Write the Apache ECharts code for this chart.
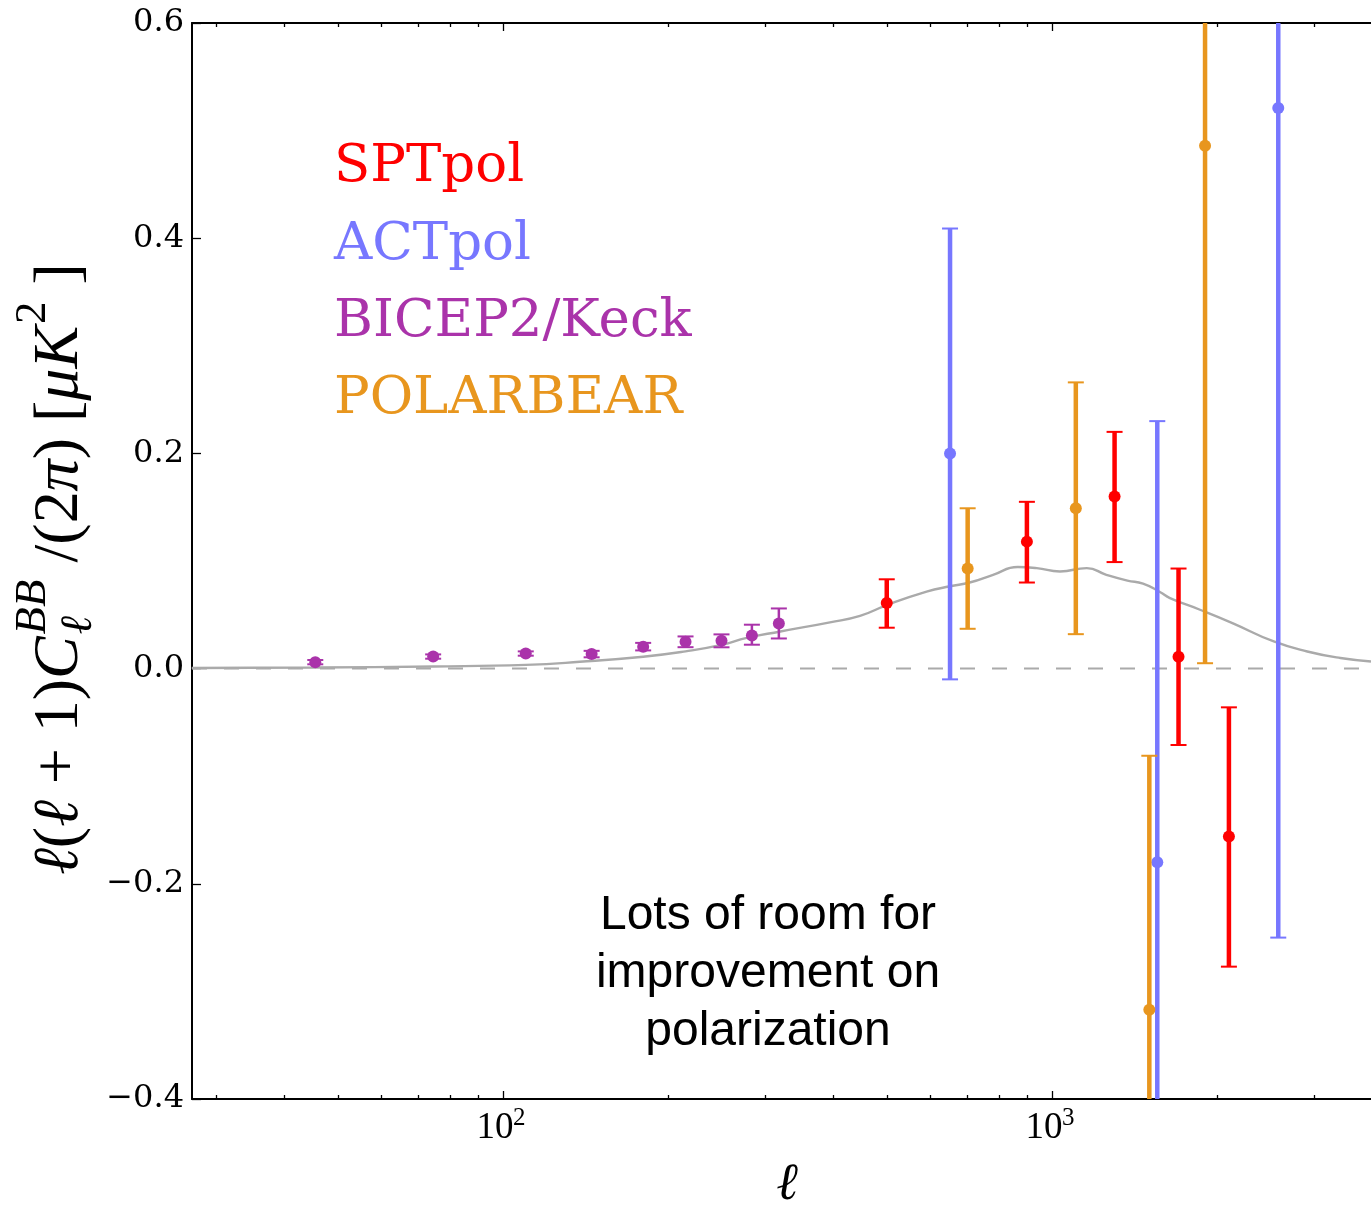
<!DOCTYPE html>
<html>
<head>
<meta charset="utf-8">
<script src="https://cdn.jsdelivr.net/npm/echarts@6/dist/echarts.min.js"></script>
<style>
html,body{margin:0;padding:0;background:#fff;}
#chart{width:1371px;height:1208px;}
</style>
</head>
<body>
<div id="chart"></div>
<script>
// ---------------- data ----------------
const X_MIN = 27.13;
const X_MAX = 3811;
const X_MAJOR = [100, 1000];
const X_MAJOR_EXP = ['2', '3'];
const X_MINOR = [30, 40, 50, 60, 70, 80, 90, 200, 300, 400, 500, 600, 700, 800, 900, 2000, 3000];
const Y_MIN = -0.4, Y_MAX = 0.6, Y_STEP = 0.2;

const SERIES_NAMES = ['SPTpol', 'ACTpol', 'BICEP2/Keck', 'POLARBEAR'];
const SERIES_COLORS = ['#ff0000', '#7777ff', '#aa33aa', '#e8961e'];

const ELL_SPT = [500, 900, 1300, 1700, 2100];
const VAL_SPT = [0.061, 0.118, 0.160, 0.011, -0.156];
const LO_SPT  = [0.038, 0.080, 0.099, -0.071, -0.277];
const HI_SPT  = [0.083, 0.155, 0.220, 0.093, -0.036];

const ELL_ACT = [652, 1555, 2583];
const VAL_ACT = [0.200, -0.180, 0.521];
const LO_ACT  = [-0.010, -0.589, -0.250];
const HI_ACT  = [0.409, 0.230, 1.290];

const ELL_BK = [45.5, 74.6, 110, 145, 180, 215, 250, 284, 318];
const VAL_BK = [0.006, 0.0112, 0.014, 0.0135, 0.0204, 0.0249, 0.0258, 0.0308, 0.0419];
const LO_BK  = [0.004, 0.0092, 0.012, 0.0105, 0.0169, 0.0199, 0.0198, 0.0222, 0.0280];
const HI_BK  = [0.008, 0.0132, 0.016, 0.0165, 0.0239, 0.0299, 0.0318, 0.0408, 0.0559];

const ELL_PB = [702, 1105, 1504, 1900];
const VAL_PB = [0.093, 0.149, -0.317, 0.486];
const LO_PB  = [0.037, 0.032, -0.553, 0.005];
const HI_PB  = [0.149, 0.266, -0.081, 0.967];

const THEORY_ELL = [27.1, 45.5, 74.6, 110, 138, 180, 215, 250, 278, 320, 394, 447, 500, 591, 652, 708, 781, 866, 938, 1034, 1157, 1256, 1372, 1465, 1575, 1640, 1860, 2131, 2535, 2917, 3352, 3811];
const THEORY_VAL = [0.0005, 0.001, 0.002, 0.0035, 0.0063, 0.011, 0.016, 0.022, 0.0285, 0.0345, 0.0430, 0.049, 0.059, 0.0715, 0.0765, 0.0800, 0.0872, 0.0944, 0.0934, 0.0903, 0.0934, 0.0872, 0.0818, 0.079, 0.071, 0.0655, 0.0547, 0.0423, 0.0252, 0.0159, 0.0098, 0.0066];

const NOTE_LINES = ['Lots of room for', 'improvement on', 'polarization'];

// ---------------- helpers ----------------
const L10 = Math.log10;
function errData(ell, val, lo, hi) {
  return ell.map((e, i) => [L10(e), val[i], lo[i], hi[i]]);
}
function errRender(color, barW, r) {
  return function (params, api) {
    const cs = params.coordSys;
    const top = cs.y, bot = cs.y + cs.height;
    const xv = api.value(0);
    const pc = api.coord([xv, api.value(1)]);
    const yLo = api.coord([xv, api.value(2)])[1];
    const yHi = api.coord([xv, api.value(3)])[1];
    const x = pc[0];
    const cl = v => Math.min(Math.max(v, top), bot);
    const children = [];
    children.push({type: 'line', shape: {x1: x, y1: cl(yHi), x2: x, y2: cl(yLo)},
      style: {stroke: color, lineWidth: barW}});
    const capW = 8;
    [yHi, yLo].forEach(yy => {
      if (yy >= top && yy <= bot) {
        children.push({type: 'line', shape: {x1: x - capW, y1: yy, x2: x + capW, y2: yy},
          style: {stroke: color, lineWidth: 2}});
      }
    });
    if (pc[1] >= top - r && pc[1] <= bot + r) {
      children.push({type: 'circle', shape: {cx: x, cy: pc[1], r: r}, style: {fill: color}});
    }
    return {type: 'group', children: children};
  };
}

// ---------------- y-axis label (rotated math text) ----------------
const SERIF = '"Liberation Serif", "DejaVu Serif", serif';
const mctx = document.createElement('canvas').getContext('2d');
function tw(t, fs, it) { mctx.font = (it ? 'italic ' : '') + fs + 'px ' + SERIF; return mctx.measureText(t).width; }
const Y_LABEL_TOKENS = [
  {t: 'ℓ', it: true}, {t: '('}, {t: 'ℓ', it: true}, {t: ' + '}, {t: '1'}, {t: ')'},
  {t: 'C', it: true}, {sup: 'BB', sub: 'ℓ'}, {t: ' /('}, {t: '2'}, {t: 'π', it: true},
  {t: ') ['}, {t: 'μK', it: true}, {sup: '2', supIt: false}, {t: ' ]'}
];
function buildYLabel(targetLen, cx, cy) {
  const base = 50;
  const measure = fs => Y_LABEL_TOKENS.reduce((s, k) => {
    if (k.t !== undefined) return s + tw(k.t, fs, k.it);
    const ss = fs * 0.7;
    return s + Math.max(tw(k.sup, ss, k.supIt !== false), k.sub ? tw(k.sub, ss, true) : 0) + fs * 0.05;
  }, 0);
  const fs = base * targetLen / measure(base);
  const W = measure(fs);
  let x = -W / 2;
  const ch = [];
  Y_LABEL_TOKENS.forEach(k => {
    if (k.t !== undefined) {
      ch.push({type: 'text', x: x, y: 0, style: {text: k.t, font: (k.it ? 'italic ' : '') + fs + 'px ' + SERIF,
        fill: '#000', align: 'left', verticalAlign: 'middle'}});
      x += tw(k.t, fs, k.it);
    } else {
      const ss = fs * 0.7;
      const supIt = k.supIt !== false;
      ch.push({type: 'text', x: x + fs * 0.03, y: -0.42 * fs, style: {text: k.sup, font: (supIt ? 'italic ' : '') + ss + 'px ' + SERIF,
        fill: '#000', align: 'left', verticalAlign: 'middle'}});
      if (k.sub) {
        ch.push({type: 'text', x: x + fs * 0.03, y: 0.3 * fs, style: {text: k.sub, font: 'italic ' + ss + 'px ' + SERIF,
          fill: '#000', align: 'left', verticalAlign: 'middle'}});
      }
      x += Math.max(tw(k.sup, ss, supIt), k.sub ? tw(k.sub, ss, true) : 0) + fs * 0.05;
    }
  });
  return {type: 'group', x: cx, y: cy, rotation: Math.PI / 2, children: ch, z: 100};
}

// ---------------- chart ----------------
const chart = echarts.init(document.getElementById('chart'), null, {renderer: 'canvas'});

const xMin = L10(X_MIN), xMax = L10(X_MAX);
function xAxisDef(pos, major) {
  return {
    type: 'value', position: pos, min: xMin, max: xMax, gridIndex: 0,
    axisLine: {show: major, onZero: false, lineStyle: {color: '#000', width: 2}},
    axisTick: {show: true, inside: true, length: major ? 8 : 4,
      customValues: (major ? X_MAJOR : X_MINOR).map(L10),
      lineStyle: {color: '#000', width: 1.3}},
    axisLabel: {show: false},
    splitLine: {show: false}
  };
}

const SANS = '"Liberation Sans", Arial, sans-serif';
const legendGraphics = SERIES_NAMES.map((n, i) => ({
  type: 'text', left: 334, top: 141 + i * 77.3, z: 100,
  style: {text: n, font: '53px "DejaVu Serif", serif', fill: SERIES_COLORS[i]}
}));

const option = {
  animation: false,
  backgroundColor: '#fff',
  grid: {left: 192, right: 0, top: 23, bottom: 109, containLabel: false},
  xAxis: [
    xAxisDef('bottom', true),
    xAxisDef('bottom', false),
    xAxisDef('top', true),
    xAxisDef('top', false)
  ],
  yAxis: [{
    type: 'value', min: Y_MIN, max: Y_MAX, interval: Y_STEP,
    axisLine: {show: true, onZero: false, lineStyle: {color: '#000', width: 2}},
    axisTick: {show: true, inside: true, length: 9, lineStyle: {color: '#000', width: 1.3}},
    axisLabel: {
      margin: 8, color: '#000', fontFamily: '"DejaVu Serif", serif', fontSize: 32,
      formatter: v => (v < -1e-9 ? '\u2212' : '') + Math.abs(v).toFixed(1)
    },
    splitLine: {show: false}
  }],
  series: [
    {
      type: 'line', name: 'zero', data: [[xMin, 0], [xMax, 0]], symbol: 'none', z: 1,
      lineStyle: {color: '#aaaaaa', width: 2, type: [15, 17]}, silent: true
    },
    {
      type: 'line', name: 'theory', data: THEORY_ELL.map((e, i) => [L10(e), THEORY_VAL[i]]),
      symbol: 'none', smooth: 0.5, z: 2, clip: true,
      lineStyle: {color: '#aaaaaa', width: 2.4}, silent: true
    },
    {type: 'custom', name: SERIES_NAMES[2], data: errData(ELL_BK, VAL_BK, LO_BK, HI_BK), clip: true, z: 3,
      encode: {x: 0, y: 1}, renderItem: errRender(SERIES_COLORS[2], 2.5, 6)},
    {type: 'custom', name: SERIES_NAMES[0], data: errData(ELL_SPT, VAL_SPT, LO_SPT, HI_SPT), clip: true, z: 3,
      encode: {x: 0, y: 1}, renderItem: errRender(SERIES_COLORS[0], 4.5, 6)},
    {type: 'custom', name: SERIES_NAMES[1], data: errData(ELL_ACT, VAL_ACT, LO_ACT, HI_ACT), clip: true, z: 3,
      encode: {x: 0, y: 1}, renderItem: errRender(SERIES_COLORS[1], 4.5, 6)},
    {type: 'custom', name: SERIES_NAMES[3], data: errData(ELL_PB, VAL_PB, LO_PB, HI_PB), clip: true, z: 3,
      encode: {x: 0, y: 1}, renderItem: errRender(SERIES_COLORS[3], 4.5, 6)}
  ],
  graphic: [
    ...legendGraphics,
    {
      type: 'text', x: 768, y: 974, z: 100,
      style: {text: NOTE_LINES.join('\n'), font: '48px ' + SANS, fill: '#000', align: 'center',
        verticalAlign: 'middle', lineHeight: 58}
    },
    {
      type: 'text', x: 787, y: 1185, z: 100,
      style: {text: 'ℓ', font: 'italic 52px ' + SERIF, fill: '#000', align: 'center', verticalAlign: 'middle'}
    },
    buildYLabel(612, 60, 569)
  ]
};
chart.setOption(option);

// x tick labels (10^n) positioned through the x axis scale
const axisBottomY = chart.convertToPixel({yAxisIndex: 0}, Y_MIN);
const tickLabelGraphics = [];
X_MAJOR.forEach((m, i) => {
  const px = chart.convertToPixel({xAxisIndex: 0}, L10(m));
  tickLabelGraphics.push({type: 'text', x: px - 8, y: axisBottomY + 29, z: 100,
    style: {text: '10', font: '37px ' + SERIF, fill: '#000', align: 'center', verticalAlign: 'middle'}});
  tickLabelGraphics.push({type: 'text', x: px + 10, y: axisBottomY + 19, z: 100,
    style: {text: X_MAJOR_EXP[i], font: '25px ' + SERIF, fill: '#000', align: 'left', verticalAlign: 'middle'}});
});
chart.setOption({graphic: option.graphic.concat(tickLabelGraphics)});
</script>
</body>
</html>
